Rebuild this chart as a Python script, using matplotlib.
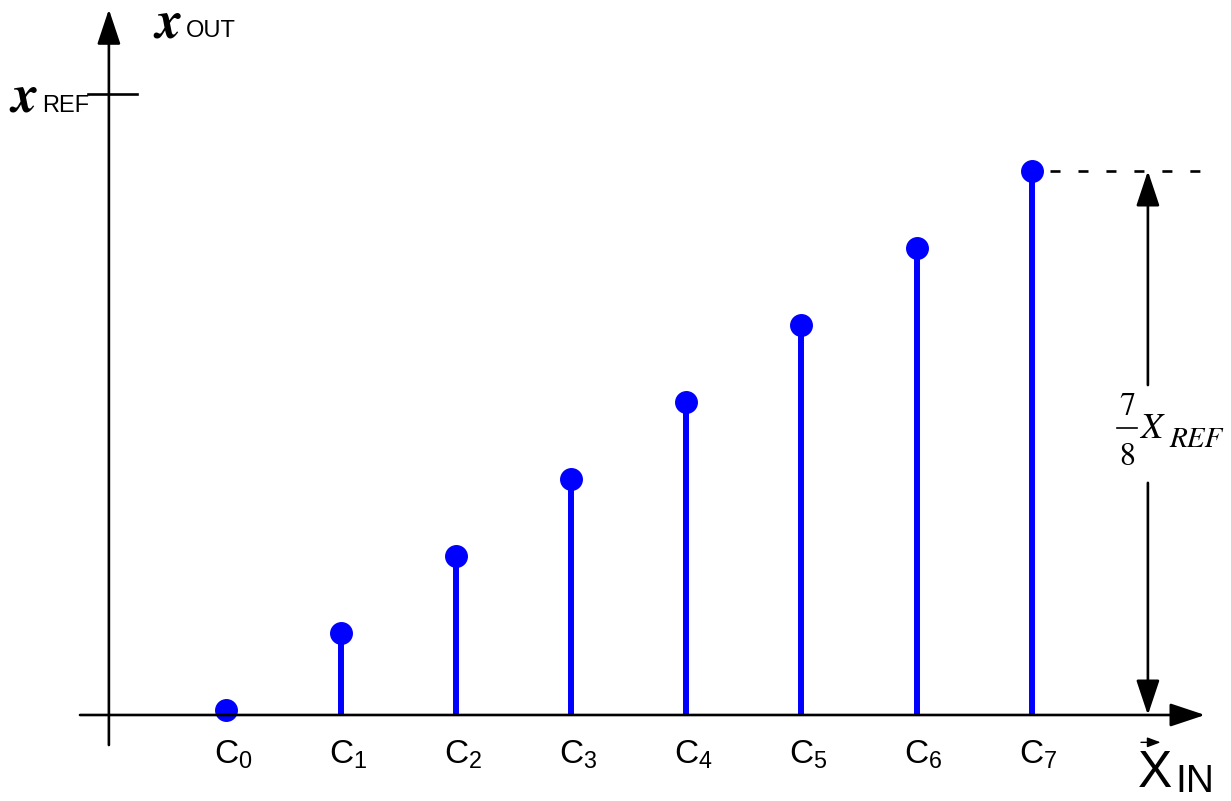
import matplotlib.pyplot as plt
import numpy as np

# output codes C0..C7 and their levels (in steps of x_REF / 8)
codes = [f"C_{i}" for i in range(8)]
levels = np.array([0, 1, 2, 3, 4, 5, 6, 7])
full_scale = 8

sans = "Liberation Sans"
serif_it = dict(family="STIXGeneral", style="italic")

fig = plt.figure(figsize=(12.31, 8.01), dpi=100)
ax = fig.add_axes([0, 0, 1, 1])
ax.set_xlim(-1.963, 8.732)
ax.set_ylim(-1.182, 9.221)
ax.axis("off")

xs = np.arange(len(levels))
base = -0.065  # where the horizontal axis sits

# axes with arrow heads
head = dict(arrowstyle="-|>,head_length=1.08,head_width=0.36",
            color="black", lw=1.9, mutation_scale=20, shrinkA=0, shrinkB=0)
ax.annotate("", xy=(8.506, base), xytext=(-1.268, base), arrowprops=head)
ax.annotate("", xy=(-1.017, 9.1), xytext=(-1.017, -0.455), arrowprops=head)

# reference tick on the vertical axis
ax.plot([-1.199, -0.773], [full_scale, full_scale], color="black", lw=1.9)

# stems and dots
ax.vlines(xs[1:], base, levels[1:], color="#0000ff", lw=4.3)
ax.plot(xs, levels, "o", color="#0000ff", markersize=15.5)

# dashed guide at the top code
ax.plot([7.16, 8.5], [levels[-1], levels[-1]], color="black", lw=1.9,
        dashes=(3.8, 6.8))

# double arrow spanning 7/8 of the reference, with a gap for the label
xa = 8.01
ax.annotate("", xy=(xa, levels[-1]), xytext=(xa, 4.22), arrowprops=head)
ax.annotate("", xy=(xa, base), xytext=(xa, 2.95), arrowprops=head)

# 7/8 X_REF label
ax.text(7.828, 3.83, "7", family="STIXGeneral", fontsize=23,
        ha="center", va="baseline")
ax.text(7.828, 3.18, "8", family="STIXGeneral", fontsize=23,
        ha="center", va="baseline")
ax.plot([7.741, 7.915], [3.662, 3.662], color="black", lw=1.2)
ax.text(7.945, 3.532, "X", fontsize=26, va="baseline", **serif_it)
ax.text(8.2, 3.416, "REF", fontsize=21, va="baseline", **serif_it)

# code labels
for x, c in zip(xs, codes):
    ax.text(x + 0.06, -0.7, rf"$\mathregular{{{c}}}$", family=sans,
            fontsize=24, ha="center", va="baseline")

# axis titles
xfont = dict(family="STIXGeneral", style="italic", weight="bold", fontsize=38)
ax.text(-0.61, 8.74, "x", va="baseline", **xfont)
ax.text(-0.345, 8.74, "OUT", family=sans, fontsize=17, va="baseline")
ax.text(-1.86, 7.77, "x", va="baseline", **xfont)
ax.text(-1.60, 7.77, "REF", family=sans, fontsize=17, va="baseline")

ax.text(7.92, -1.0, "X", family=sans, fontsize=37, va="baseline")
ax.text(8.245, -1.07, "IN", family=sans, fontsize=28, va="baseline")
ax.annotate("", xy=(8.12, -0.42), xytext=(7.95, -0.42),
            arrowprops=dict(arrowstyle="-|>,head_length=0.8,head_width=0.3",
                            color="black", lw=1.0, mutation_scale=10,
                            shrinkA=0, shrinkB=0))

fig.savefig("out.png", dpi=100)
